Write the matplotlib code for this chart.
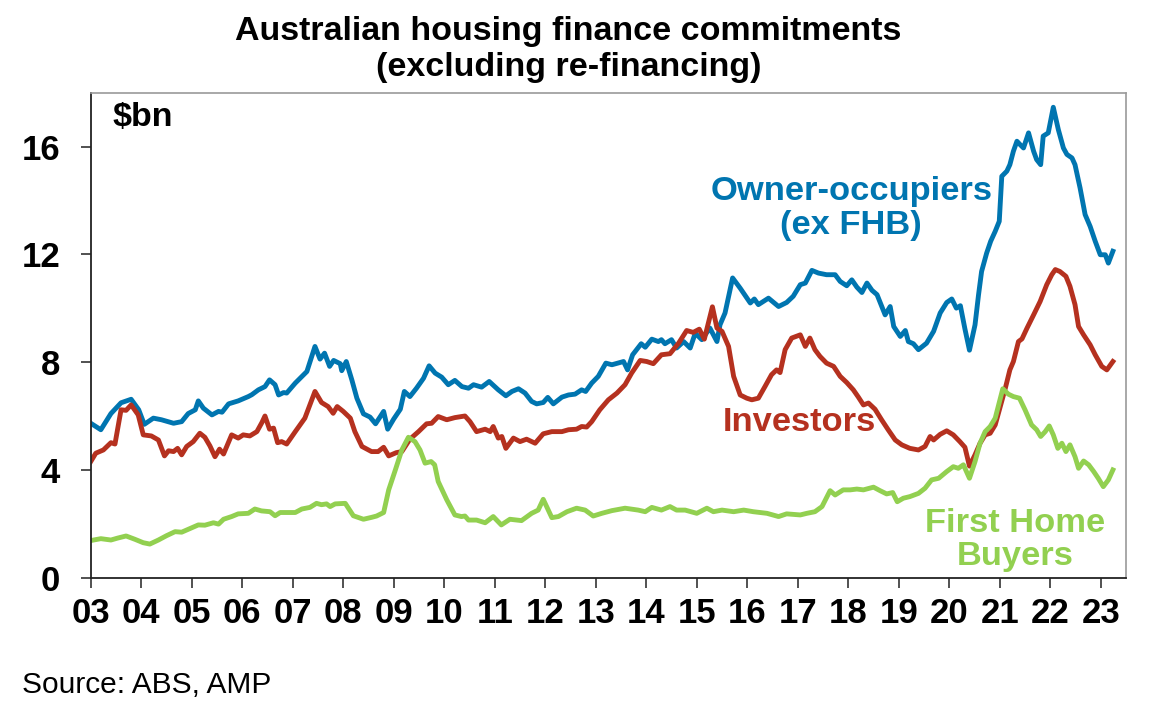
import matplotlib
matplotlib.use("Agg")
import matplotlib.pyplot as plt

# Owner-occupiers (ex FHB), $bn
oo_t = [2003.0, 2003.2, 2003.4, 2003.6, 2003.8, 2003.95, 2004.06, 2004.24, 2004.4, 2004.64, 2004.8, 2004.93,
        2005.07, 2005.13, 2005.23, 2005.4, 2005.53, 2005.6, 2005.73, 2005.92, 2006.12, 2006.19, 2006.32, 2006.45,
        2006.54, 2006.65, 2006.72, 2006.82, 2006.88, 2007.05, 2007.28, 2007.44, 2007.54, 2007.63, 2007.73, 2007.81,
        2007.94, 2007.97, 2008.06, 2008.17, 2008.27, 2008.4, 2008.53, 2008.64, 2008.8, 2008.88, 2009.0, 2009.13,
        2009.21, 2009.32, 2009.45, 2009.59, 2009.7, 2009.82, 2009.95, 2010.08, 2010.21, 2010.35, 2010.48, 2010.58,
        2010.74, 2010.89, 2011.07, 2011.22, 2011.34, 2011.47, 2011.6, 2011.73, 2011.83, 2011.96, 2012.05, 2012.16,
        2012.33, 2012.46, 2012.59, 2012.72, 2012.8, 2012.92, 2013.05, 2013.2, 2013.32, 2013.55, 2013.63, 2013.73,
        2013.9, 2013.98, 2014.11, 2014.24, 2014.3, 2014.37, 2014.5, 2014.6, 2014.74, 2014.87, 2014.97, 2015.1,
        2015.26, 2015.4, 2015.46, 2015.56, 2015.71, 2015.86, 2016.06, 2016.14, 2016.22, 2016.42, 2016.62, 2016.78,
        2016.91, 2017.05, 2017.15, 2017.28, 2017.41, 2017.57, 2017.74, 2017.84, 2017.97, 2018.07, 2018.17, 2018.27,
        2018.37, 2018.47, 2018.57, 2018.73, 2018.83, 2018.9, 2019.03, 2019.13, 2019.19, 2019.29, 2019.39, 2019.55,
        2019.69, 2019.82, 2019.95, 2020.05, 2020.14, 2020.22, 2020.31, 2020.4, 2020.51, 2020.58, 2020.64, 2020.74,
        2020.82, 2020.91, 2020.99, 2021.04, 2021.14, 2021.2, 2021.27, 2021.34, 2021.4, 2021.47, 2021.57, 2021.67,
        2021.73, 2021.81, 2021.86, 2021.96, 2022.06, 2022.16, 2022.26, 2022.33, 2022.43, 2022.49, 2022.59, 2022.69,
        2022.79, 2022.89, 2022.99, 2023.09, 2023.15, 2023.24]
oo_v = [5.74, 5.5, 6.1, 6.5, 6.63, 6.24, 5.7, 5.93, 5.87, 5.74, 5.8, 6.1,
        6.24, 6.57, 6.3, 6.05, 6.18, 6.15, 6.46, 6.57, 6.73, 6.8, 6.98, 7.1,
        7.35, 7.17, 6.79, 6.88, 6.86, 7.23, 7.66, 8.59, 8.12, 8.34, 7.85, 8.07,
        7.95, 7.69, 8.03, 7.35, 6.67, 6.09, 5.97, 5.72, 6.18, 5.52, 5.9, 6.26,
        6.92, 6.73, 7.04, 7.41, 7.87, 7.6, 7.45, 7.17, 7.33, 7.1, 7.04, 7.17,
        7.08, 7.29, 6.98, 6.76, 6.92, 7.02, 6.86, 6.55, 6.46, 6.51, 6.7, 6.46,
        6.71, 6.79, 6.82, 6.98, 6.92, 7.23, 7.48, 7.97, 7.91, 8.03, 7.72, 8.28,
        8.69, 8.56, 8.86, 8.77, 8.84, 8.69, 8.84, 8.53, 8.77, 8.53, 9.08, 8.84,
        9.27, 8.77, 9.39, 9.83, 11.13, 10.75, 10.2, 10.35, 10.14, 10.38, 10.07, 10.22,
        10.45, 10.88, 10.94, 11.41, 11.31, 11.25, 11.25, 11.0, 10.84, 11.06, 10.79, 10.59,
        10.94, 10.67, 10.51, 9.76, 10.07, 9.33, 8.96, 9.18, 8.77, 8.69, 8.47, 8.71,
        9.15, 9.83, 10.22, 10.35, 10.01, 10.1, 9.24, 8.45, 9.39, 10.51, 11.37, 12.05,
        12.49, 12.86, 13.23, 14.9, 15.09, 15.33, 15.83, 16.2, 16.08, 15.95, 16.51, 15.83,
        15.52, 15.33, 16.39, 16.51, 17.46, 16.63, 15.95, 15.71, 15.58, 15.33, 14.47, 13.48,
        13.04, 12.49, 11.99, 11.99, 11.68, 12.12]

# Investors, $bn
inv_t = [2003.0, 2003.1, 2003.25, 2003.4, 2003.48, 2003.6, 2003.7, 2003.8, 2003.94, 2004.04, 2004.2, 2004.34,
         2004.46, 2004.54, 2004.64, 2004.72, 2004.8, 2004.9, 2005.03, 2005.16, 2005.26, 2005.36, 2005.46, 2005.55,
         2005.63, 2005.79, 2005.92, 2006.02, 2006.15, 2006.29, 2006.39, 2006.45, 2006.54, 2006.62, 2006.7, 2006.78,
         2006.88, 2007.05, 2007.24, 2007.44, 2007.57, 2007.7, 2007.8, 2007.88, 2008.0, 2008.14, 2008.23, 2008.37,
         2008.56, 2008.69, 2008.8, 2008.9, 2009.05, 2009.16, 2009.32, 2009.49, 2009.65, 2009.75, 2009.88, 2010.05,
         2010.21, 2010.41, 2010.51, 2010.64, 2010.81, 2010.91, 2010.97, 2011.07, 2011.14, 2011.22, 2011.37, 2011.5,
         2011.63, 2011.8, 2011.96, 2012.13, 2012.33, 2012.46, 2012.62, 2012.72, 2012.82, 2012.92, 2013.08, 2013.25,
         2013.42, 2013.58, 2013.71, 2013.88, 2014.01, 2014.14, 2014.3, 2014.47, 2014.64, 2014.8, 2014.93, 2015.05,
         2015.15, 2015.31, 2015.4, 2015.5, 2015.63, 2015.73, 2015.86, 2015.99, 2016.09, 2016.22, 2016.35, 2016.48,
         2016.58, 2016.65, 2016.75, 2016.88, 2017.05, 2017.15, 2017.24, 2017.34, 2017.44, 2017.57, 2017.71, 2017.84,
         2017.97, 2018.1, 2018.2, 2018.3, 2018.4, 2018.53, 2018.66, 2018.79, 2018.93, 2019.06, 2019.22, 2019.39,
         2019.52, 2019.62, 2019.69, 2019.82, 2019.95, 2020.08, 2020.21, 2020.31, 2020.4, 2020.51, 2020.61, 2020.71,
         2020.81, 2020.91, 2021.01, 2021.11, 2021.2, 2021.27, 2021.32, 2021.37, 2021.44, 2021.54, 2021.67, 2021.8,
         2021.93, 2022.03, 2022.1, 2022.19, 2022.31, 2022.39, 2022.49, 2022.56, 2022.66, 2022.79, 2022.89, 2023.02,
         2023.12, 2023.24]
inv_v = [4.32, 4.63, 4.75, 5.02, 4.97, 6.24, 6.22, 6.42, 6.05, 5.31, 5.27, 5.12,
         4.53, 4.72, 4.69, 4.81, 4.57, 4.88, 5.06, 5.37, 5.22, 4.9, 4.5, 4.78,
         4.6, 5.31, 5.19, 5.31, 5.27, 5.43, 5.77, 6.01, 5.52, 5.56, 5.02, 5.06,
         4.97, 5.43, 5.93, 6.92, 6.51, 6.36, 6.11, 6.36, 6.18, 5.93, 5.43, 4.88,
         4.69, 4.69, 4.85, 4.53, 4.65, 4.69, 5.15, 5.43, 5.72, 5.74, 5.99, 5.87,
         5.95, 6.01, 5.8, 5.43, 5.52, 5.43, 5.62, 5.19, 5.25, 4.81, 5.19, 5.06,
         5.15, 5.0, 5.35, 5.43, 5.43, 5.5, 5.52, 5.62, 5.6, 5.8, 6.24, 6.61,
         6.86, 7.17, 7.6, 8.07, 8.03, 7.95, 8.28, 8.32, 8.71, 9.18, 9.11, 9.23,
         8.86, 10.06, 9.27, 9.15, 8.59, 7.48, 6.79, 6.67, 6.61, 6.67, 7.1, 7.54,
         7.72, 7.62, 8.47, 8.9, 9.02, 8.59, 8.9, 8.47, 8.22, 7.97, 7.85, 7.48,
         7.25, 6.98, 6.71, 6.42, 6.49, 6.26, 5.87, 5.5, 5.12, 4.94, 4.81, 4.75,
         4.88, 5.25, 5.12, 5.33, 5.46, 5.31, 5.06, 4.85, 4.15, 4.57, 5.0, 5.31,
         5.37, 5.68, 6.36, 7.04, 7.72, 8.03, 8.4, 8.77, 8.87, 9.27, 9.76, 10.26,
         10.88, 11.25, 11.44, 11.37, 11.19, 10.82, 10.14, 9.33, 9.02, 8.65, 8.28, 7.85,
         7.72, 8.03]

# First home buyers, $bn
fhb_t = [2003.0, 2003.2, 2003.4, 2003.53, 2003.7, 2003.87, 2004.04, 2004.17, 2004.34, 2004.5, 2004.67, 2004.8,
         2004.97, 2005.13, 2005.26, 2005.43, 2005.53, 2005.63, 2005.79, 2005.92, 2006.12, 2006.25, 2006.38, 2006.55,
         2006.65, 2006.75, 2007.05, 2007.18, 2007.34, 2007.47, 2007.57, 2007.67, 2007.74, 2007.84, 2008.04, 2008.2,
         2008.4, 2008.56, 2008.66, 2008.8, 2008.9, 2009.03, 2009.16, 2009.29, 2009.42, 2009.52, 2009.62, 2009.74,
         2009.81, 2009.88, 2010.05, 2010.21, 2010.34, 2010.41, 2010.48, 2010.64, 2010.81, 2010.97, 2011.13, 2011.3,
         2011.53, 2011.73, 2011.86, 2011.96, 2012.06, 2012.13, 2012.26, 2012.43, 2012.62, 2012.79, 2012.95, 2013.12,
         2013.32, 2013.58, 2013.84, 2013.98, 2014.11, 2014.3, 2014.47, 2014.6, 2014.77, 2015.0, 2015.2, 2015.33,
         2015.5, 2015.73, 2015.93, 2016.12, 2016.39, 2016.62, 2016.78, 2017.05, 2017.18, 2017.34, 2017.48, 2017.64,
         2017.74, 2017.9, 2018.04, 2018.17, 2018.3, 2018.5, 2018.63, 2018.76, 2018.88, 2018.97, 2019.09, 2019.22,
         2019.39, 2019.52, 2019.65, 2019.79, 2019.95, 2020.08, 2020.18, 2020.28, 2020.4, 2020.51, 2020.61, 2020.71,
         2020.81, 2020.91, 2020.97, 2021.06, 2021.17, 2021.27, 2021.39, 2021.5, 2021.63, 2021.73, 2021.81, 2021.9,
         2021.98, 2022.06, 2022.15, 2022.23, 2022.31, 2022.39, 2022.49, 2022.56, 2022.66, 2022.76, 2022.86, 2022.95,
         2023.05, 2023.15, 2023.24]
fhb_v = [1.39, 1.46, 1.41, 1.48, 1.56, 1.44, 1.31, 1.26, 1.41, 1.57, 1.72, 1.7,
         1.84, 1.97, 1.96, 2.05, 2.0, 2.18, 2.28, 2.38, 2.4, 2.56, 2.49, 2.46,
         2.31, 2.43, 2.43, 2.56, 2.62, 2.77, 2.72, 2.75, 2.65, 2.75, 2.77, 2.31,
         2.18, 2.25, 2.3, 2.43, 3.27, 4.0, 4.75, 5.22, 5.06, 4.75, 4.26, 4.32,
         4.2, 3.58, 2.9, 2.34, 2.28, 2.3, 2.15, 2.15, 2.05, 2.28, 1.97, 2.18,
         2.13, 2.4, 2.52, 2.92, 2.52, 2.24, 2.28, 2.46, 2.59, 2.52, 2.3, 2.4,
         2.5, 2.59, 2.52, 2.46, 2.62, 2.52, 2.65, 2.52, 2.52, 2.4, 2.59, 2.46,
         2.52, 2.46, 2.52, 2.46, 2.4, 2.28, 2.38, 2.34, 2.4, 2.46, 2.65, 3.24,
         3.08, 3.27, 3.27, 3.3, 3.27, 3.37, 3.24, 3.12, 3.17, 2.83, 2.96, 3.02,
         3.14, 3.33, 3.64, 3.7, 3.95, 4.13, 4.07, 4.2, 3.7, 4.32, 5.0, 5.43,
         5.62, 5.93, 6.36, 7.02, 6.82, 6.73, 6.67, 6.24, 5.68, 5.5, 5.25, 5.43,
         5.64, 5.31, 4.81, 5.0, 4.69, 4.94, 4.5, 4.07, 4.34, 4.2, 3.95, 3.7,
         3.39, 3.64, 4.01]

year_ticks = list(range(2003, 2024))
year_labels = [f"{y % 100:02d}" for y in year_ticks]
y_ticks = [0, 4, 8, 12, 16]

BLUE = "#0075B0"
RED = "#B5311F"
GREEN = "#92D050"

plt.rcParams["font.family"] = ["Liberation Sans", "DejaVu Sans"]

fig = plt.figure(figsize=(11.53, 7.22), dpi=100)
ax = fig.add_axes([0.0787, 0.1994, 0.8979, 0.6722])

ax.plot(oo_t, oo_v, color=BLUE, lw=3.5, solid_joinstyle="round")
ax.plot(inv_t, inv_v, color=RED, lw=3.5, solid_joinstyle="round")
ax.plot(fhb_t, fhb_v, color=GREEN, lw=3.5, solid_joinstyle="round")

ax.set_xlim(2003, 2023.5)
ax.set_ylim(0, 18)
ax.set_xticks(year_ticks)
ax.set_xticklabels(year_labels, fontsize=25, fontweight="bold")
ax.set_yticks(y_ticks)
ax.set_yticklabels([str(v) for v in y_ticks], fontsize=25, fontweight="bold")
ax.tick_params(axis="x", direction="out", length=7, width=1.2, color="#333333", pad=7)
ax.tick_params(axis="y", direction="out", length=7, width=1.2, color="#333333", pad=15)

for s in ["left", "bottom"]:
    ax.spines[s].set_color("#222222")
    ax.spines[s].set_linewidth(1.3)
for s in ["top", "right"]:
    ax.spines[s].set_color("#9a9a9a")
    ax.spines[s].set_linewidth(1.2)

ax.text(0.0206, 0.948, "$bn", transform=ax.transAxes, fontsize=24.5, fontweight="bold", va="center", ha="left")

ax.text(2018.06, 13.7, "Owner-occupiers\n(ex FHB)", color=BLUE, fontsize=24.8, fontweight="bold",
        ha="center", va="center", linespacing=1.12)
ax.text(2017.03, 5.76, "Investors", color=RED, fontsize=24.8, fontweight="bold", ha="center", va="center")
ax.text(2021.3, 1.41, "First Home\nBuyers", color=GREEN, fontsize=24.8, fontweight="bold",
        ha="center", va="center", linespacing=1.1)

fig.text(0.493, 0.956, "Australian housing finance commitments", fontsize=24.5, fontweight="bold",
         ha="center", va="center")
fig.text(0.493, 0.906, "(excluding re-financing)", fontsize=24.5, fontweight="bold", ha="center", va="center")
fig.text(0.019, 0.051, "Source: ABS, AMP", fontsize=21.5, ha="left", va="center")

fig.savefig("out.png", dpi=100)
